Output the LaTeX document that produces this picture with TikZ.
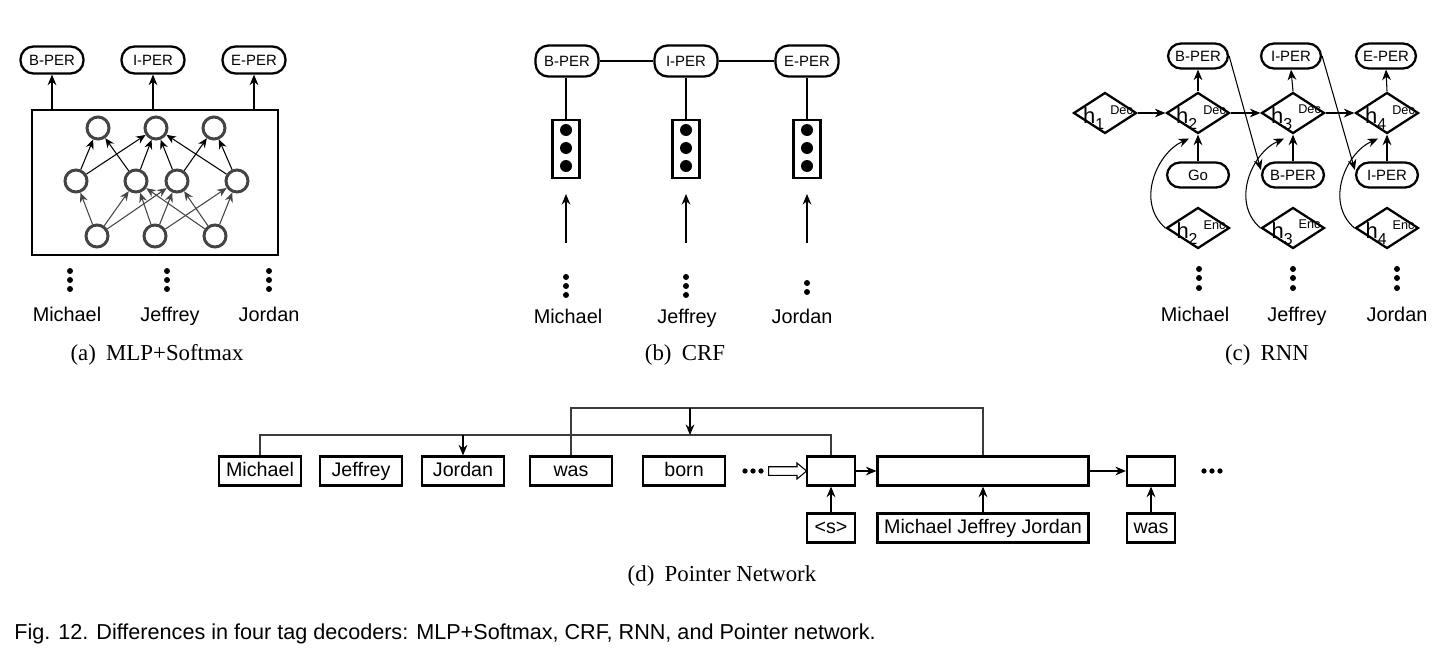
\documentclass[tikz,border=0pt]{standalone}
\usepackage{fontspec}
\setmainfont{Liberation Sans}
\newfontfamily\capfont{Liberation Serif}
\usepackage{xcolor}
\usetikzlibrary{arrows.meta,shapes.geometric,shapes.arrows,positioning}
\definecolor{netgray}{RGB}{68,68,68}
\definecolor{busgray}{RGB}{60,60,60}

\newcommand{\hlab}[2]{h\raisebox{-.5ex}{\fontsize{9}{9}\selectfont #1}\hspace{3.5pt}\raisebox{.85ex}{\fontsize{7.2}{8}\selectfont #2}}

\tikzset{
  tip/.style={line width=0.6pt, -{Stealth[length=6pt,width=5pt]}},
  smalltip/.style={line width=0.6pt, -{Stealth[length=5.4pt,width=4.6pt]}},
  tagnode/.style={draw, line width=1.3pt, rounded corners=2.6mm, minimum width=12.6mm,
    minimum height=5.4mm, inner sep=0pt, font=\fontsize{8.5}{9}\selectfont},
  neuron/.style={circle, draw=netgray, line width=1.7pt, minimum size=4.4mm, inner sep=0pt},
  word/.style={inner sep=0pt, text height=8.2pt, text depth=2.4pt, font=\fontsize{11.3}{12}\selectfont},
  subcap/.style={inner sep=0pt, font=\capfont\fontsize{13}{14}\selectfont},
  featbox/.style={draw, line width=1.2pt, minimum width=5.4mm, minimum height=11.6mm, inner sep=0pt},
  hstate/.style={diamond, draw, line width=1.3pt, minimum width=12.6mm, minimum height=8.2mm, inner sep=0pt},
  hlabel/.style={inner sep=0pt, font=\fontsize{12.5}{13}\selectfont},
  tokbox/.style={draw, line width=1.3pt, minimum width=16.4mm, minimum height=5.8mm,
    inner sep=0pt, text height=8.2pt, text depth=2.4pt, font=\fontsize{11.2}{12}\selectfont},
}

\begin{document}
\begin{tikzpicture}[x=0.02cm, y=-0.02cm]
  \useasboundingbox (0,0) rectangle (1447,656);

  % (a) MLP+Softmax
  \node[draw, line width=0.6pt, minimum width=49.2mm, minimum height=29mm] (mlp) at (155,182.5) {};
  \node[tagnode] (aT1) at (52,60) {B-PER};
  \node[tagnode] (aT2) at (153,60) {I-PER};
  \node[tagnode] (aT3) at (254,60) {E-PER};
  \foreach \t in {aT1,aT2,aT3}
    \draw[tip] (\t |- mlp.north) -- (\t.south);
  \node[neuron] (o1) at (98,128) {};
  \node[neuron] (o2) at (156,128) {};
  \node[neuron] (o3) at (214,128) {};
  \node[neuron] (m1) at (76,181) {};
  \node[neuron] (m2) at (136,181) {};
  \node[neuron] (m3) at (177,181) {};
  \node[neuron] (m4) at (237,181) {};
  \node[neuron] (i1) at (97,236) {};
  \node[neuron] (i2) at (155,236) {};
  \node[neuron] (i3) at (215,236) {};
  \foreach \a/\b in {m1/o1, m2/o1, m1/o2, m2/o2, m3/o2, m4/o2, m3/o3, m4/o3}
    \draw[smalltip] (\a) -- (\b);
  \foreach \a/\b in {i1/m1, i1/m2, i1/m3, i2/m2, i2/m3, i2/m4, i3/m2, i3/m3, i3/m4}
    \draw[netgray, smalltip] (\a) -- (\b);
  \foreach \x in {70,167,269}
    \foreach \y in {271,280,289}
      \fill (\x,\y) circle (1.7pt);
  \node[word] (aW1) at (67,316) {Michael};
  \node[word] (aW2) at (170,316) {Jeffrey};
  \node[word] (aW3) at (269,316) {Jordan};
  \node[subcap] (capA) at (157,355) {(a)\hspace{0.45em}MLP+Softmax};

  % (b) CRF
  \node[tagnode, minimum height=6.2mm] (bT1) at (567,61) {B-PER};
  \node[tagnode, minimum height=6.2mm] (bT2) at (686,61) {I-PER};
  \node[tagnode, minimum height=6.2mm] (bT3) at (807,61) {E-PER};
  \draw[line width=1.1pt] (bT1) -- (bT2) -- (bT3);
  \foreach \i/\x in {1/566,2/686,3/807} {
    \node[featbox] (bF\i) at (\x,149) {};
    \foreach \y in {130,148,166}
      \fill (\x,\y) circle (1.2mm);
    \draw[line width=1.1pt] (bT\i.south -| bF\i) -- (bF\i);
    \draw[tip] ([yshift=-12.8mm]bF\i.south) -- ([yshift=-3mm]bF\i.south);
  }
  \foreach \x in {566,686}
    \foreach \y in {277,286,295}
      \fill (\x,\y) circle (1.7pt);
  \foreach \y in {283,292}
    \fill (807,\y) circle (1.7pt);
  \node[word] (bW1) at (568,318) {Michael};
  \node[word] (bW2) at (687,318) {Jeffrey};
  \node[word] (bW3) at (802,318) {Jordan};
  \node[subcap] (capB) at (685,355) {(b)\hspace{0.45em}CRF};

  % (c) RNN
  \node[tagnode, minimum width=12mm, minimum height=5mm] (cT2) at (1198,56) {B-PER};
  \node[tagnode, minimum width=12mm, minimum height=5mm] (cT3) at (1291,56) {I-PER};
  \node[tagnode, minimum width=12mm, minimum height=5mm] (cT4) at (1386,56) {E-PER};
  \node[hstate] (d1) at (1105,113) {};
  \node[hlabel] (d1t) at ([xshift=0.6mm,yshift=-0.9mm]d1) {\hlab{1}{Dec}};
  \foreach \i/\x in {2/1198,3/1293,4/1387} {
    \node[hstate] (d\i) at (\x,113) {};
    \node[hlabel] (d\i t) at ([xshift=0.6mm,yshift=-0.9mm]d\i) {\hlab{\i}{Dec}};
    \node[hstate] (e\i) at (\x,228) {};
    \node[hlabel] (e\i t) at ([xshift=0.6mm,yshift=-0.9mm]e\i) {\hlab{\i}{Enc}};
  }
  \node[tagnode, minimum width=12.4mm, minimum height=5mm] (cM2) at (1198,175) {Go};
  \node[tagnode, minimum width=12.4mm, minimum height=5mm] (cM3) at (1293,175) {B-PER};
  \node[tagnode, minimum width=12.4mm, minimum height=5mm] (cM4) at (1387,175) {I-PER};
  \draw[tip] (d1.east) -- (d2.west);
  \draw[tip] (d2.east) -- (d3.west);
  \draw[tip] (d3.east) -- (d4.west);
  \foreach \i in {2,3,4} {
    \draw[tip] (d\i.north) -- (cT\i.south);
    \draw[tip] (cM\i.north) -- (d\i.south);
    \draw[tip] (e\i.west) .. controls +(-30,-26) and +(-32,14) .. ([xshift=-1.8mm,yshift=-0.8mm]d\i.south);
  }
  \draw[tip] (cT2.east) -- ([yshift=1mm]cM3.west);
  \draw[tip] (cT3.east) -- ([yshift=1mm]cM4.west);
  \foreach \x in {1199,1293,1397}
    \foreach \y in {269,278,288}
      \fill (\x,\y) circle (1.7pt);
  \node[word] (cW1) at (1195,316) {Michael};
  \node[word] (cW2) at (1297,316) {Jeffrey};
  \node[word] (cW3) at (1397,316) {Jordan};
  \node[subcap] (capC) at (1267,355) {(c)\hspace{0.45em}RNN};

  % (d) Pointer Network
  \node[tokbox] (w1) at (260,471) {Michael};
  \node[tokbox] (w2) at (361,471) {Jeffrey};
  \node[tokbox] (w3) at (463,471) {Jordan};
  \node[tokbox] (w4) at (571,471) {was};
  \node[tokbox] (w5) at (684,471) {born};
  \foreach \x in {745,753,761}
    \fill (\x,471) circle (1.5pt);
  \node[single arrow, draw, line width=0.6pt, minimum height=7.6mm, inner sep=0.75mm,
    single arrow head extend=0.75mm, single arrow tip angle=80] (feed) at (785,471) {};
  \node[tokbox, minimum width=9.6mm] (ptr) at (831,471) {};
  \node[tokbox, minimum width=42.2mm] (span) at (983,471) {};
  \node[tokbox, minimum width=9.6mm] (nxt) at (1151,471) {};
  \node[tokbox, minimum width=9.6mm] (sIn) at (831,528) {<s>};
  \node[tokbox, minimum width=42.2mm] (spanIn) at (983,528) {Michael Jeffrey Jordan};
  \node[tokbox, minimum width=9.6mm] (wasIn) at (1151,528) {was};
  \foreach \x in {1204,1212,1220}
    \fill (\x,471) circle (1.5pt);
  \draw[tip] (ptr) -- (span);
  \draw[tip] (span) -- (nxt);
  \draw[tip] (sIn) -- (ptr);
  \draw[tip] (spanIn) -- (span);
  \draw[tip] (wasIn) -- (nxt);
  % pointer lines
  \coordinate (busA) at (831,435);
  \coordinate (busB) at (983,408);
  \coordinate (pick) at (690,408);
  \draw[line width=0.6pt, busgray] (ptr.north) -- (busA) -| (w1.north);
  \draw[tip] (w3.north |- busA) -- (w3.north);
  \draw[line width=0.6pt, busgray] (span.north) -- (busB) -| (w4.north);
  \draw[tip] (pick) -- (pick |- busA);
  \node[subcap] (capD) at (722,576) {(d)\hspace{0.45em}Pointer Network};

  % Figure caption
  \node[anchor=west, inner sep=0pt, font=\fontsize{12.3}{13}\selectfont] (figcap) at (14,634)
    {Fig. 12. Differences in four tag decoders: MLP+Softmax, CRF, RNN, and Pointer network.};
\end{tikzpicture}
\end{document}
